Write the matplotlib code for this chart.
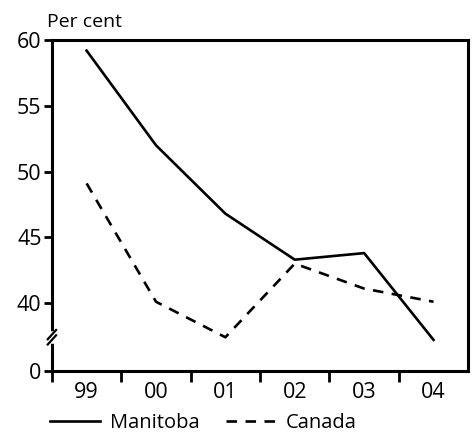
import matplotlib
matplotlib.use("Agg")
import matplotlib.pyplot as plt
from matplotlib.lines import Line2D

plt.rcParams['font.family'] = ['Open Sans', 'DejaVu Sans']

years = ["99", "00", "01", "02", "03", "04"]
manitoba = [59.2, 52.0, 46.8, 43.3, 43.8, 37.2]
canada = [49.1, 40.1, 37.4, 43.0, 41.1, 40.1]
yticks = [40, 45, 50, 55, 60]
y_zero = 34.83  # where the "0" label sits below the axis break

fig = plt.figure(figsize=(4.72, 4.36), dpi=100)
ax = fig.add_axes([0.110, 0.149, 0.882, 0.759])

x = list(range(len(years)))
ax.plot(x, manitoba, color="black", lw=1.9, label="Manitoba")
ax.plot(x, canada, color="black", lw=1.9, ls=(0, (4, 3.2)), label="Canada")

ax.set_xlim(-0.5, len(years) - 0.5)
ax.set_ylim(y_zero, 60)
ax.set_yticks([y_zero] + yticks)
ax.set_yticklabels(["0"] + [str(v) for v in yticks])
ax.set_xticks([i + 0.5 for i in range(-1, len(years) - 1)])
ax.set_xticklabels([])
ax.set_xticks(x, minor=True)
ax.set_xticklabels(years, minor=True)
ax.tick_params(axis="x", which="minor", length=0, pad=8, labelsize=15.5)
ax.tick_params(axis="x", which="major", length=8, width=2, direction="out")
ax.tick_params(axis="y", length=6, width=2, direction="out", pad=1.5, labelsize=15.5)
for s in ax.spines.values():
    s.set_linewidth(2.2)

# axis break on the left spine
brk = 37.4
ax.plot([-0.5, -0.5], [brk - 0.25, brk + 0.25], color="white", lw=4, clip_on=False, zorder=5)
for dy in (-0.2, 0.2):
    ax.plot([-0.56, -0.44], [brk + dy - 0.35, brk + dy + 0.35], color="black", lw=1.6,
            clip_on=False, zorder=6)

fig.text(0.100, 0.93, "Per cent", fontsize=14, ha="left", va="bottom")

handles = [Line2D([], [], color="black", lw=1.9),
           Line2D([], [], color="black", lw=1.9, ls=(0, (4, 3.2)))]
fig.legend(handles, ["Manitoba", "Canada"], loc="center left", bbox_to_anchor=(0.105, 0.03),
           ncol=2, frameon=False, fontsize=14.5, handlelength=2.5, handletextpad=0.5,
           columnspacing=1.3, borderpad=0, borderaxespad=0)

fig.savefig("out.png", dpi=100)
